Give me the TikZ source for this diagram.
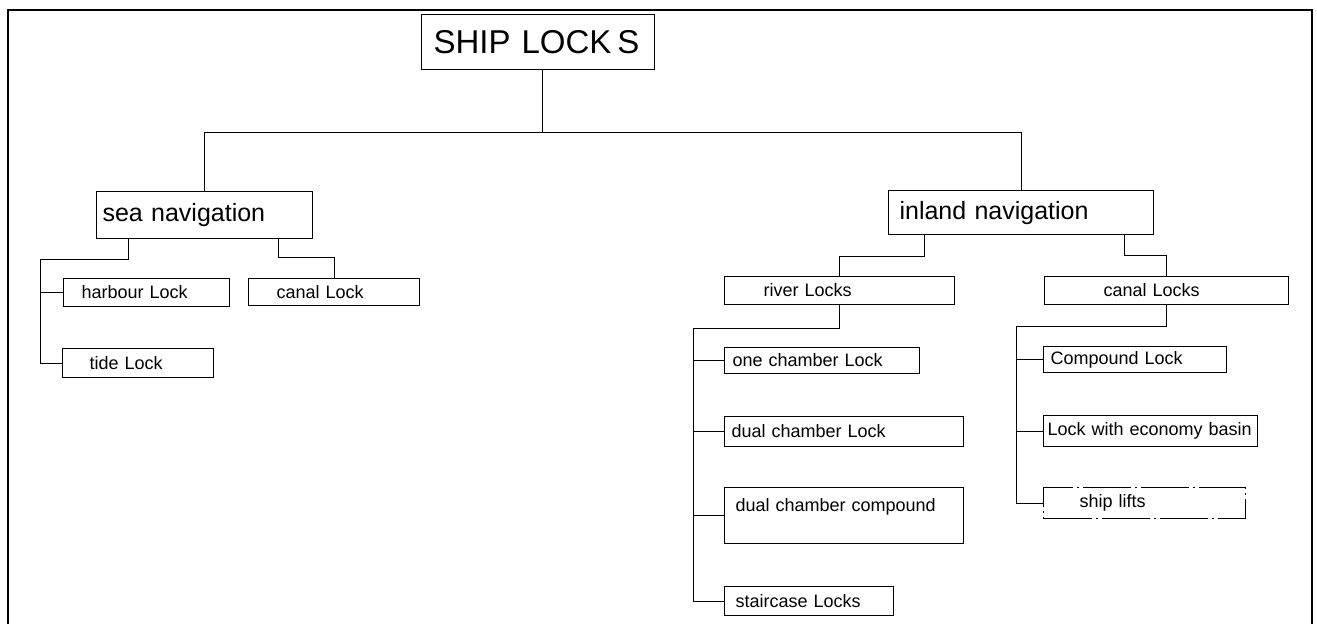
\documentclass[tikz,border=0pt]{standalone}
\usepackage{fontspec}
\setmainfont{Liberation Sans}
\usepackage{tikz}
\tikzset{
    box/.style={
        draw, line width=1.1pt, anchor=north west,
        inner xsep=0pt, inner ysep=0pt, align=left,
        font=\fontsize{18}{21}\selectfont
    },
    bigbox/.style={box, font=\fontsize{25}{30}\selectfont},
    liftbox/.style={box, dash pattern=on 48pt off 4pt on 2pt off 4pt},
    link/.style={line width=0.9pt}
}

\begin{document}
\begin{tikzpicture}[x=1pt, y=-1pt]

\useasboundingbox (0,0) rectangle (1317,624);

% Cornice
\draw[line width=2pt] (8,624) -- (8,10) -- (1312,10) -- (1312,624);

% Radice
\node[box, font=\fontsize{33}{40}\selectfont, text width=233pt, minimum height=55pt]
    (ships) at (421,14) {\hspace*{12pt}SHIP LOCK\hspace{6pt}S};

% Primo livello
\node[bigbox, text width=216pt, minimum height=47pt] (sea) at (96,191) {\hspace*{6pt}sea navigation};
\node[bigbox, text width=265pt, minimum height=44pt] (inland) at (888,190) {\hspace*{11pt}inland navigation};

% Navigazione marittima
\node[box, text width=166pt, minimum height=28pt] (harbour) at (63,278) {\hspace*{18pt}harbour Lock};
\node[box, text width=171pt, minimum height=27pt] (canal) at (248,278) {\hspace*{28pt}canal Lock};
\node[box, text width=151pt, minimum height=29pt] (tide) at (62,348) {\hspace*{27pt}tide Lock};

% Navigazione interna
\node[box, text width=230pt, minimum height=28pt] (river) at (724,276) {\hspace*{39pt}river Locks};
\node[box, text width=244pt, minimum height=28pt] (canals) at (1044,276) {\hspace*{59pt}canal Locks};

\node[box, text width=195pt, minimum height=26pt] (onech) at (724,347) {\hspace*{8pt}one chamber Lock};
\node[box, text width=239pt, minimum height=30pt] (dualch) at (724,416) {\hspace*{7pt}dual chamber Lock};
\node[box, text width=239pt, minimum height=56pt] (dualcomp) at (724,487) {\hspace*{11pt}dual chamber compound\\ \mbox{}};
\node[box, text width=169pt, minimum height=29pt] (stair) at (724,586) {\hspace*{11pt}staircase Locks};

\node[box, text width=183pt, minimum height=26pt] (compound) at (1043,346) {\hspace*{7pt}Compound Lock};
\node[box, text width=214pt, minimum height=31pt] (economy) at (1043,415) {\hspace*{4pt}Lock with economy basin};
\node[liftbox, text width=202pt, minimum height=31pt] (lifts) at (1043,487) {\hspace*{36pt}ship lifts};

% Collegamenti
\draw[link] ([xshift=4pt]ships.south) -- ++(0,62) coordinate (bus);
\draw[link] (sea.north) |- (bus) -| (inland.north);

\draw[link] ([xshift=32pt]sea.south west) -- ++(0,20) -| ([xshift=-22pt]tide.west) -- (tide.west);
\draw[link] (harbour.west) -- ++(-22,0);
\draw[link] ([xshift=-35pt]sea.south east) -- ++(0,18) -| (canal.north);

\draw[link] ([xshift=36pt]inland.south west) -- ++(0,21) -| (river.north);
\draw[link] ([xshift=-30pt]inland.south east) -- ++(0,20) -| (canals.north);

\draw[link] (river.south) -- ++(0,23) -| ([xshift=-31pt]stair.west) -- (stair.west);
\draw[link] (onech.west) -- ++(-31,0);
\draw[link] (dualch.west) -- ++(-31,0);
\draw[link] (dualcomp.west) -- ++(-31,0);

\draw[link] (canals.south) -- ++(0,21) -| ([xshift=-27pt]lifts.west) -- (lifts.west);
\draw[link] (compound.west) -- ++(-27,0);
\draw[link] (economy.west) -- ++(-27,0);

\end{tikzpicture}
\end{document}
